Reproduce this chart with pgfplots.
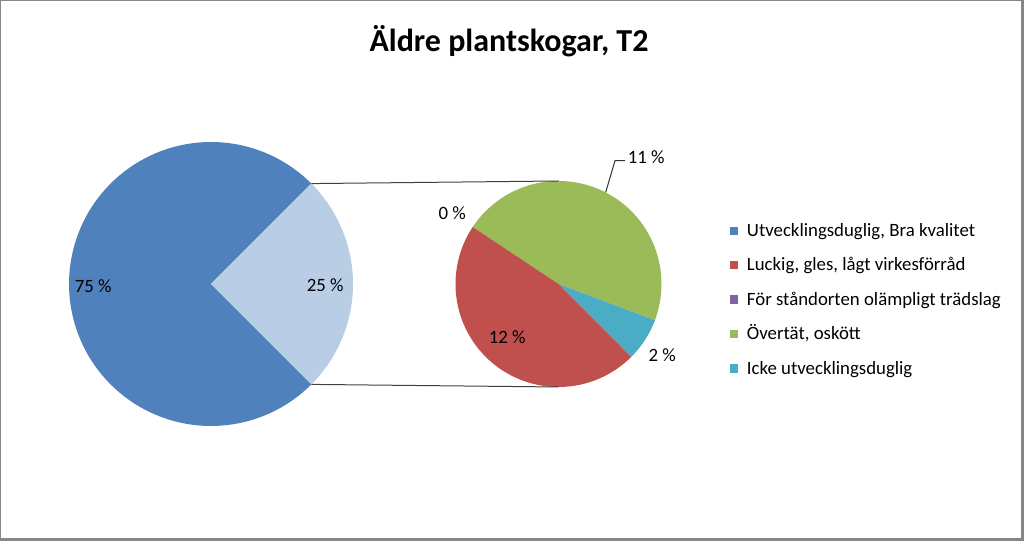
\documentclass[border=0pt]{standalone}
\usepackage{pgfplots}
\usepackage{pgfplotstable}
\pgfplotsset{compat=1.18}
\usepackage{fontspec}
\setmainfont{Carlito}

\definecolor{cUtv}{HTML}{4F81BD}
\definecolor{cRest}{HTML}{B9CDE5}
\definecolor{cLuck}{HTML}{C0504D}
\definecolor{cFor}{HTML}{8064A2}
\definecolor{cOver}{HTML}{9BBB59}
\definecolor{cIcke}{HTML}{4BACC6}
\definecolor{cBorder}{HTML}{868686}

% values (percent of all)
\pgfplotstableread{
idx value
0 75
1 11.7
2 0
3 11.6
4 1.7
}\piedata

\pgfplotstablegetelem{0}{value}\of\piedata \let\vUtv\pgfplotsretval
\pgfplotstablegetelem{1}{value}\of\piedata \let\vLuck\pgfplotsretval
\pgfplotstablegetelem{2}{value}\of\piedata \let\vFor\pgfplotsretval
\pgfplotstablegetelem{3}{value}\of\piedata \let\vOver\pgfplotsretval
\pgfplotstablegetelem{4}{value}\of\piedata \let\vIcke\pgfplotsretval

% geometry (pixel units, y upwards)
\def\mcx{211}\def\mcy{257}\def\mr{142}
\def\scx{558.5}\def\scy{257}\def\sr{103}
\def\sstart{146.4}

\pgfmathsetmacro{\restang}{(100-\vUtv)*3.6/2}
\pgfmathsetmacro{\restsum}{\vLuck+\vFor+\vOver+\vIcke}
\pgfmathsetmacro{\sk}{360/\restsum}
\pgfmathsetmacro{\aForEnd}{\sstart}
\pgfmathsetmacro{\aOverEnd}{\aForEnd-\vOver*\sk}
\pgfmathsetmacro{\aIckeEnd}{\aOverEnd-\vIcke*\sk}
\pgfmathsetmacro{\aLuckEnd}{\aIckeEnd-\vLuck*\sk}

\newcommand{\pieslice}[6]{%
  \addplot[draw=none, fill=#6, domain=#4:#5, samples=120, forget plot]
    ({#1+#3*cos(x)},{#2+#3*sin(x)}) -- (axis cs:#1,#2) -- cycle;
}

\begin{document}
\begin{tikzpicture}
\begin{axis}[
  scale only axis,
  width=768pt, height=405.75pt,
  xmin=0, xmax=1024, ymin=0, ymax=541,
  hide axis, clip=false,
]
% main pie
\pieslice{\mcx}{\mcy}{\mr}{\restang}{360-\restang}{cUtv}
\pieslice{\mcx}{\mcy}{\mr}{-\restang}{\restang}{cRest}
% secondary pie
\pieslice{\scx}{\scy}{\sr}{\aOverEnd}{\aForEnd}{cOver}
\pieslice{\scx}{\scy}{\sr}{\aIckeEnd}{\aOverEnd}{cIcke}
\pieslice{\scx}{\scy}{\sr}{\aLuckEnd}{\aIckeEnd}{cLuck}

% connector lines
\draw[line width=0.75pt, black!75] (axis cs:{\mcx+\mr*cos(\restang)},{\mcy+\mr*sin(\restang)}) -- (axis cs:\scx,{\scy+\sr});
\draw[line width=0.75pt, black!75] (axis cs:{\mcx+\mr*cos(\restang)},{\mcy-\mr*sin(\restang)}) -- (axis cs:\scx,{\scy-\sr});
% leader line
\draw[line width=0.75pt, black!80] (axis cs:625,380.3) -- (axis cs:615,380.3) -- (axis cs:605.7,348.7);

% data labels
\begin{scope}[every node/.style={inner sep=0pt, anchor=base, font=\fontsize{14.1pt}{17pt}\selectfont}]
\node at (axis cs:93.3,248.7) {75 \%};
\node at (axis cs:325.3,249.3) {25 \%};
\node at (axis cs:452.3,321.7) {0 \%};
\node at (axis cs:646.2,377.7) {11 \%};
\node at (axis cs:507.2,197) {12 \%};
\node at (axis cs:662.2,179.3) {2 \%};
\end{scope}

% title
\node[inner sep=0pt, anchor=base, font=\fontsize{24pt}{29pt}\selectfont\bfseries] at (axis cs:509,489.3) {Äldre plantskogar, T2};

% legend
\begin{scope}[every node/.style={inner sep=0pt, anchor=base west, font=\fontsize{14.1pt}{17pt}\selectfont}]
\fill[cUtv]  (axis cs:730,306) rectangle (axis cs:737.5,314.3);
\node at (axis cs:746.7,304.3) {Utvecklingsduglig, Bra kvalitet};
\fill[cLuck] (axis cs:730,271.7) rectangle (axis cs:737.5,280);
\node at (axis cs:746.7,270) {Luckig, gles, lågt virkesförråd};
\fill[cFor]  (axis cs:730,237.4) rectangle (axis cs:737.5,245.7);
\node at (axis cs:746.7,235.7) {För ståndorten olämpligt trädslag};
\fill[cOver] (axis cs:730,203) rectangle (axis cs:737.5,211.3);
\node at (axis cs:746.7,201.3) {Övertät, oskött};
\fill[cIcke] (axis cs:730,168.4) rectangle (axis cs:737.5,176.7);
\node at (axis cs:746.7,166.7) {Icke utvecklingsduglig};
\end{scope}

% border: thin top/left, thicker right/bottom
\fill[cBorder] (axis cs:0,0) rectangle (axis cs:1.2,541);
\fill[cBorder] (axis cs:0,539.8) rectangle (axis cs:1024,541);
\fill[cBorder] (axis cs:1021,0) rectangle (axis cs:1024,541);
\fill[cBorder] (axis cs:0,0) rectangle (axis cs:1024,2.7);
\end{axis}
\end{tikzpicture}
\end{document}
